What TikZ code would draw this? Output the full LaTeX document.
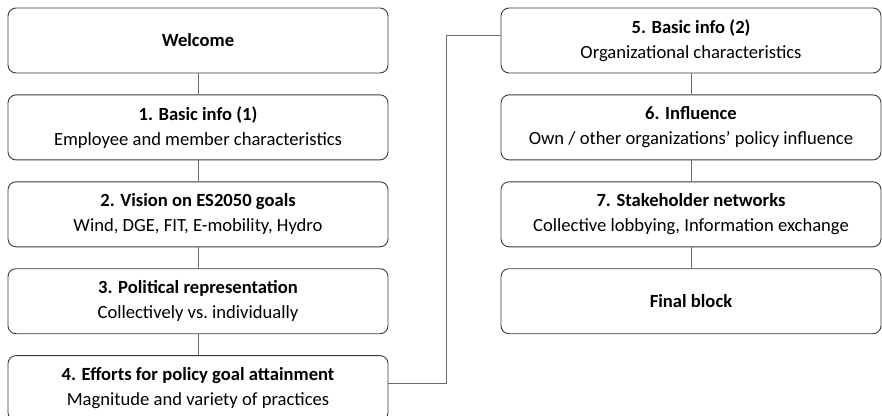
\documentclass[tikz,border=0pt]{standalone}
\usepackage{fontspec}
\setmainfont{Carlito}
\usetikzlibrary{positioning}
\definecolor{framegray}{HTML}{3A3A3A}
\definecolor{linkgray}{HTML}{6A6A6A}
\tikzstyle{stage} = [draw=framegray, line width=0.9pt, rounded corners=8pt, minimum width=380pt, minimum height=65pt, align=center, inner sep=0pt, font=\fontsize{18.6}{25}\selectfont]
\tikzstyle{link} = [draw=linkgray, line width=0.9pt]
\newcommand{\stagetext}[2]{\textbf{#1}\\#2}

\begin{document}
\begin{tikzpicture}
        \useasboundingbox (0pt,0pt) rectangle (882pt,-415pt);
        %Left column
        \node [stage] (welcome) at (198pt,-40.5pt) {\textbf{Welcome}};
        \node [stage, below = 21pt of welcome] (basic1) {\stagetext{1. Basic info (1)}{Employee and member characteristics}};
        \node [stage, below = 21pt of basic1] (vision) {\stagetext{2. Vision on ES2050 goals}{Wind, DGE, FIT, E-mobility, Hydro}};
        \node [stage, below = 21pt of vision] (represent) {\stagetext{3. Political representation}{Collectively vs.\ individually}};
        \node [stage, below = 21pt of represent] (efforts) {\stagetext{4. Efforts for policy goal attainment}{Magnitude and variety of practices}};
        %Right column
        \node [stage] (basic2) at (691pt,-40.5pt) {\stagetext{5. Basic info (2)}{Organizational characteristics}};
        \node [stage, below = 21pt of basic2] (influence) {\stagetext{6. Influence}{Own / other organizations' policy influence}};
        \node [stage, below = 21pt of influence] (networks) {\stagetext{7. Stakeholder networks}{Collective lobbying, Information exchange}};
        \node [stage, below = 21pt of networks] (final) {\textbf{Final block}};
        %Links
        \draw[link] (welcome) -- (basic1);
        \draw[link] (basic1) -- (vision);
        \draw[link] (vision) -- (represent);
        \draw[link] (represent) -- (efforts);
        \draw[link] ([yshift=5pt]efforts.east) -- ++(58pt,0) |- ([yshift=5pt]basic2.west);
        \draw[link] (basic2) -- (influence);
        \draw[link] (influence) -- (networks);
        \draw[link] (networks) -- (final);
    \end{tikzpicture}
\end{document}
